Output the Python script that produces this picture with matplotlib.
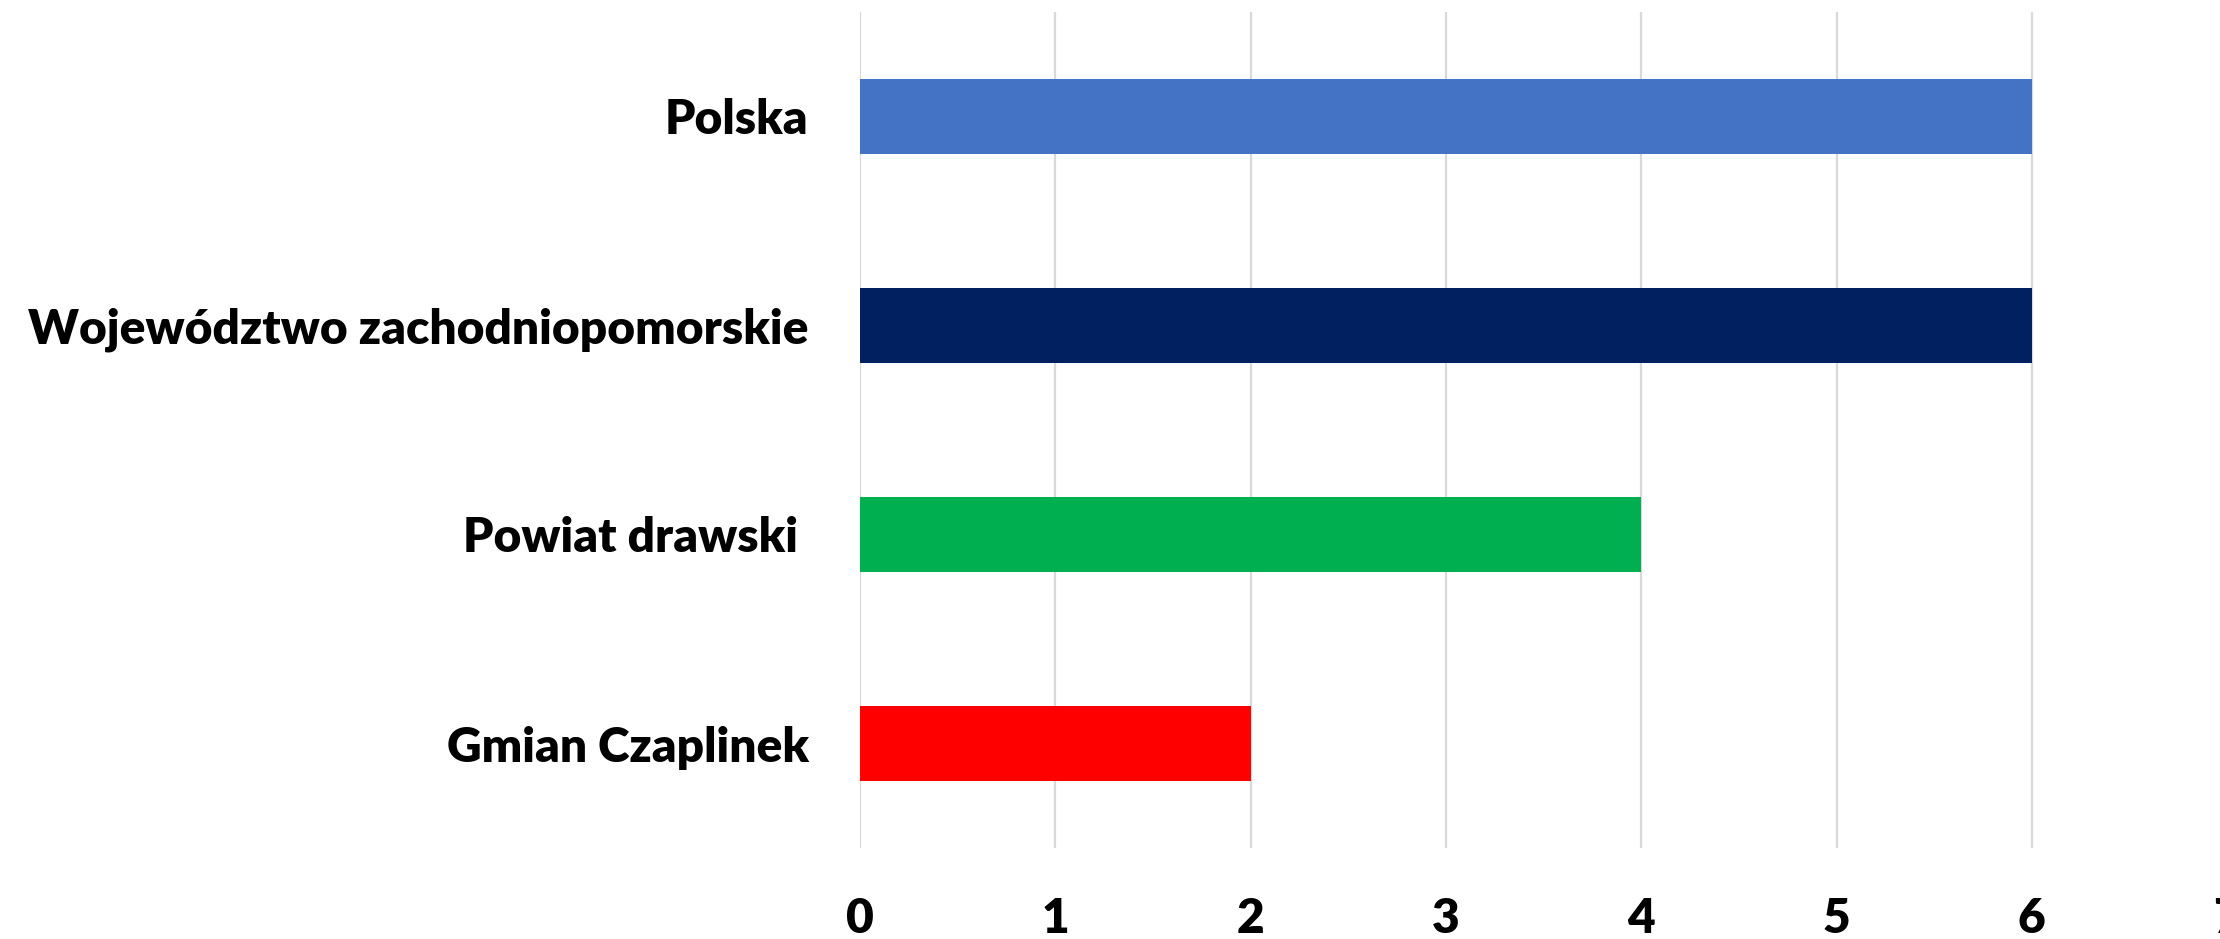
import matplotlib.pyplot as plt

# dane z wykresu (od góry do dołu)
categories = ['Polska', 'Województwo zachodniopomorskie', 'Powiat drawski ', 'Gmian Czaplinek']
values = [6, 6, 4, 2]
colors = ['#4472C4', '#002060', '#00B050', '#FF0000']
xticks = [0, 1, 2, 3, 4, 5, 6, 7]

plt.rcParams['font.family'] = ['Lato', 'DejaVu Sans']

fig = plt.figure(figsize=(22.2, 9.39), dpi=100)
ax = fig.add_axes([860 / 2220, 1 - 848 / 939, 7 * 195.3 / 2220, 836 / 939])

ax.barh(categories, values, height=0.355, color=colors, zorder=3)
ax.set_ylim(3.5, -0.5)
ax.set_xlim(0, 7)
ax.set_xticks(xticks)
ax.set_xticklabels([str(t) for t in xticks])

ax.grid(axis='x', color='#d9d9d9', linewidth=1.6, zorder=0)
ax.grid(axis='y', visible=False)
for s in ax.spines.values():
    s.set_visible(False)

ax.tick_params(axis='both', length=0, labelsize=34.5)
ax.tick_params(axis='y', pad=37)
ax.tick_params(axis='x', pad=35)
for lab in ax.get_xticklabels() + ax.get_yticklabels():
    lab.set_fontweight('heavy')

fig.savefig('out.png', dpi=100)
